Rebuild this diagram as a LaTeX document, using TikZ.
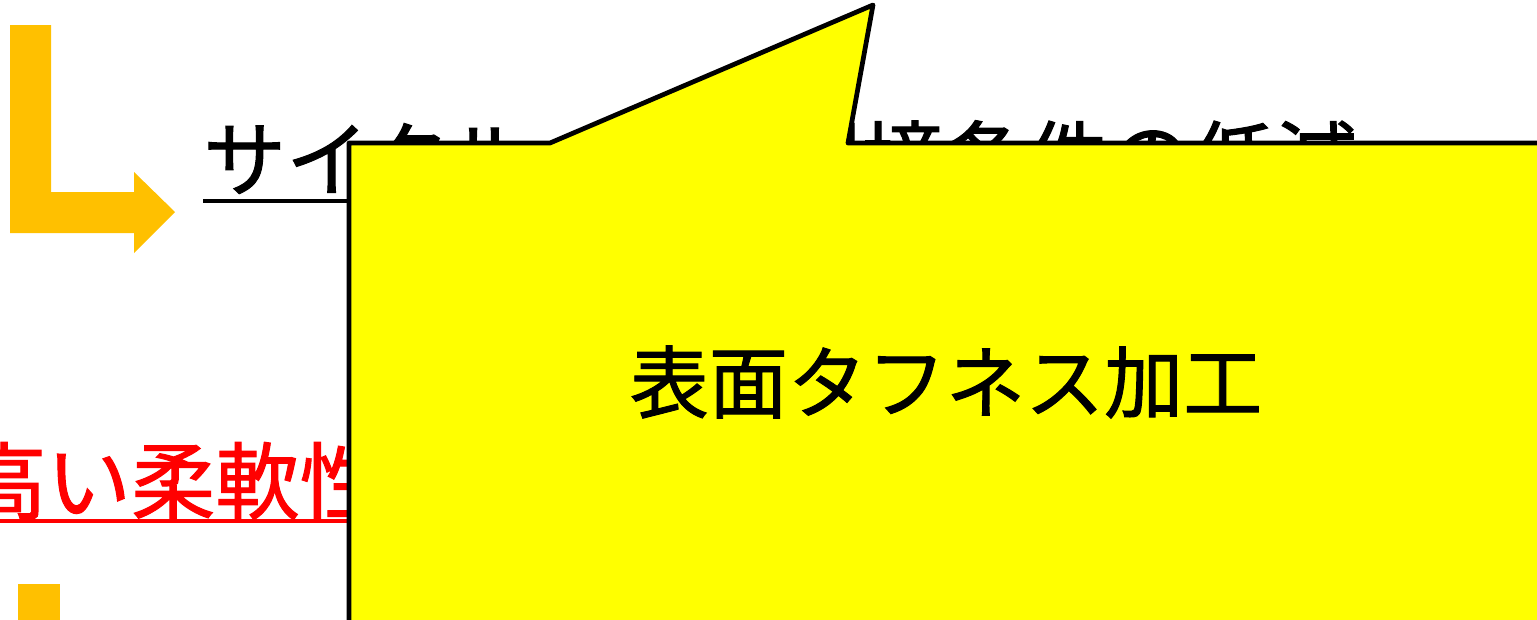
\documentclass[tikz,border=0pt]{standalone}
\usepackage{fontspec}
\newfontfamily\jpfont[FakeBold=1.2]{Noto Sans CJK JP}
\usetikzlibrary{positioning}
\definecolor{markorange}{RGB}{255,192,0}
\definecolor{calloutyellow}{RGB}{255,255,0}
\definecolor{flexred}{RGB}{255,0,0}

\begin{document}
\begin{tikzpicture}[x=0.02cm, y=-0.02cm,
    jptext/.style={inner sep=0pt, anchor=base west, font=\jpfont\fontsize{47.1}{50}\selectfont},
    callout/.style={fill=calloutyellow, draw=black, line width=2.7pt, line join=round}]
    \clip (0,0) rectangle (1537,619);
    \fill[markorange] (10,25) -- (51,25) -- (51,192) -- (134,192) -- (134,172) -- (175,212)
        -- (134,253) -- (134,233) -- (10,233) -- cycle;
    \node [jptext] (cycle) at (203,190) {サイクル・温度環境条件の低減};
    \draw[line width=2pt] ([yshift=-6.2pt]cycle.base west) -- ([yshift=-6.2pt]cycle.base east);
    \node [jptext, text=flexred, font=\jpfont\fontsize{48}{50}\selectfont] (flex) at (-38,513) {高い柔軟性};
    \draw[flexred, line width=2.2pt] ([yshift=-4.5pt]flex.base west) -- ([yshift=-4.5pt]flex.base east);
    \fill[markorange] (18,584) rectangle (60,640);
    \filldraw[callout] (349,700) -- (349,143) -- (550,143) -- (873,5) -- (848,143) -- (1600,143) -- (1600,700) -- cycle;
    \node [font=\jpfont\fontsize{45}{50}\selectfont] (tough) at (946,382) {表面タフネス加工};
\end{tikzpicture}
\end{document}
